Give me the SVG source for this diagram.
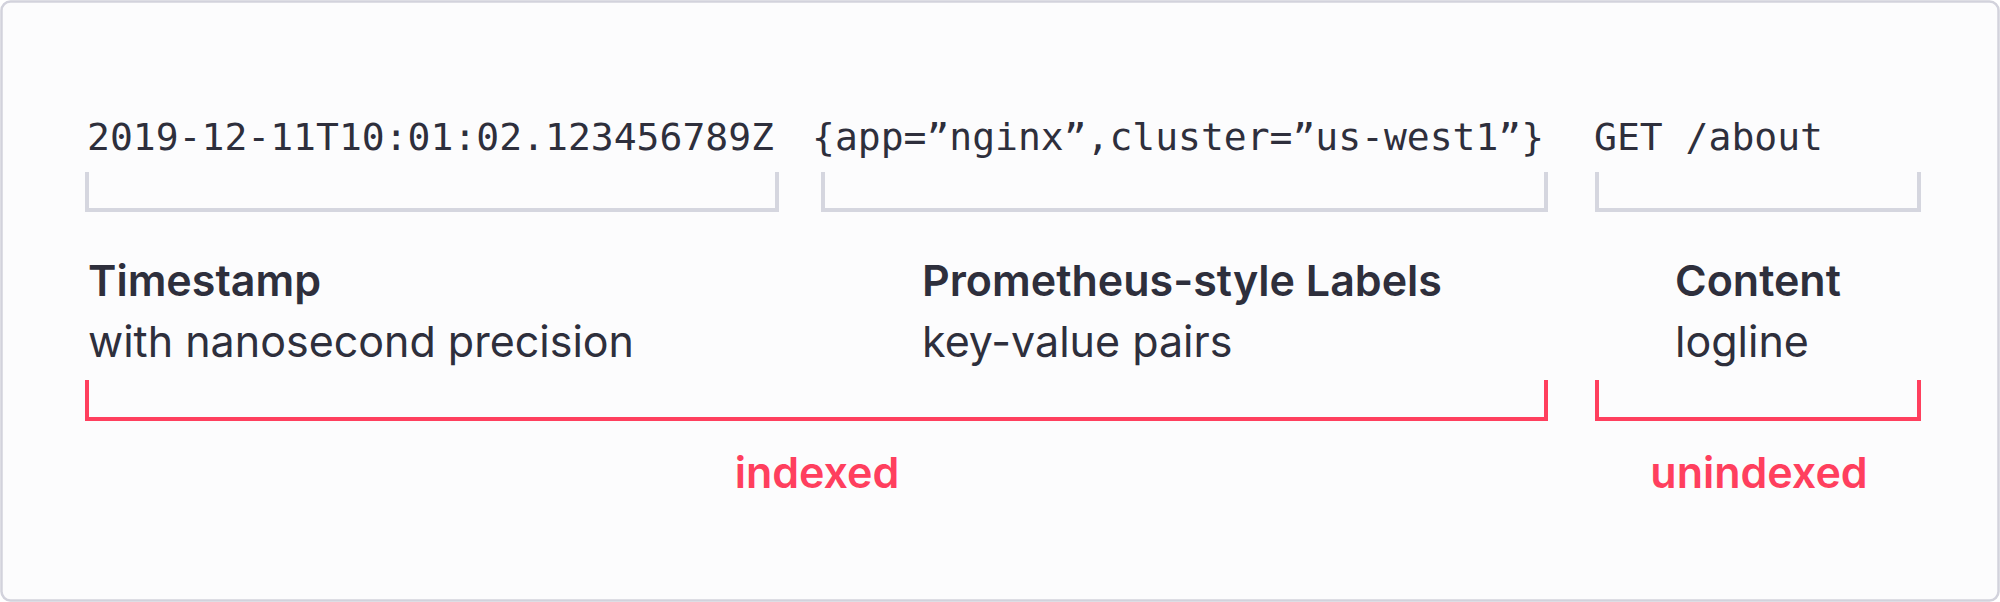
<svg xmlns="http://www.w3.org/2000/svg" width="2000" height="602" viewBox="0 0 2000 602">
<style>
.mono{font-family:"DejaVu Sans Mono","Liberation Mono",monospace;font-size:38px;fill:#2e2f3c}
.h{font-family:Inter,"Liberation Sans",sans-serif;font-size:43px;font-weight:600;fill:#2e2f3c}
.s{font-family:Inter,"Liberation Sans",sans-serif;font-size:43px;font-weight:400;fill:#2e2f3c}
.r{font-family:Inter,"Liberation Sans",sans-serif;font-size:43px;font-weight:600;fill:#ff3f5e}
.gb{fill:none;stroke:#d5d6df;stroke-width:4}
.rb{fill:none;stroke:#ff3f5e;stroke-width:4}
</style>
<rect x="1.5" y="1.5" width="1997" height="599" rx="9" fill="#fcfcfd" stroke="#d2d2dc" stroke-width="2.5"/>
<g id="timestamp">
<text class="mono" x="87" y="150" textLength="687" lengthAdjust="spacingAndGlyphs">2019-12-11T10:01:02.123456789Z</text>
<text class="h" x="88" y="296">Timestamp</text>
<text class="s" x="88" y="357">with nanosecond precision</text>
</g>
<g id="labels">
<text class="mono" x="812" y="150" textLength="732" lengthAdjust="spacingAndGlyphs">{app=”nginx”,cluster=”us-west1”}</text>
<text class="h" x="922" y="296">Prometheus-style Labels</text>
<text class="s" x="922" y="357">key-value pairs</text>
</g>
<g id="content">
<text class="mono" x="1594" y="150" textLength="229" lengthAdjust="spacingAndGlyphs">GET /about</text>
<text class="h" x="1675" y="296">Content</text>
<text class="s" x="1675" y="357">logline</text>
</g>
<g id="connectors">
<path class="gb" d="M87,172V210H777V172"/>
<path class="gb" d="M823,172V210H1546V172"/>
<path class="gb" d="M1597,172V210H1919V172"/>
<path class="rb" d="M87,380V419H1546V380"/>
<path class="rb" d="M1597,380V419H1919V380"/>
</g>
<g id="indexed">
<text class="r" x="817" y="488" text-anchor="middle">indexed</text>
</g>
<g id="unindexed">
<text class="r" x="1759" y="488" text-anchor="middle">unindexed</text>
</g>
</svg>
